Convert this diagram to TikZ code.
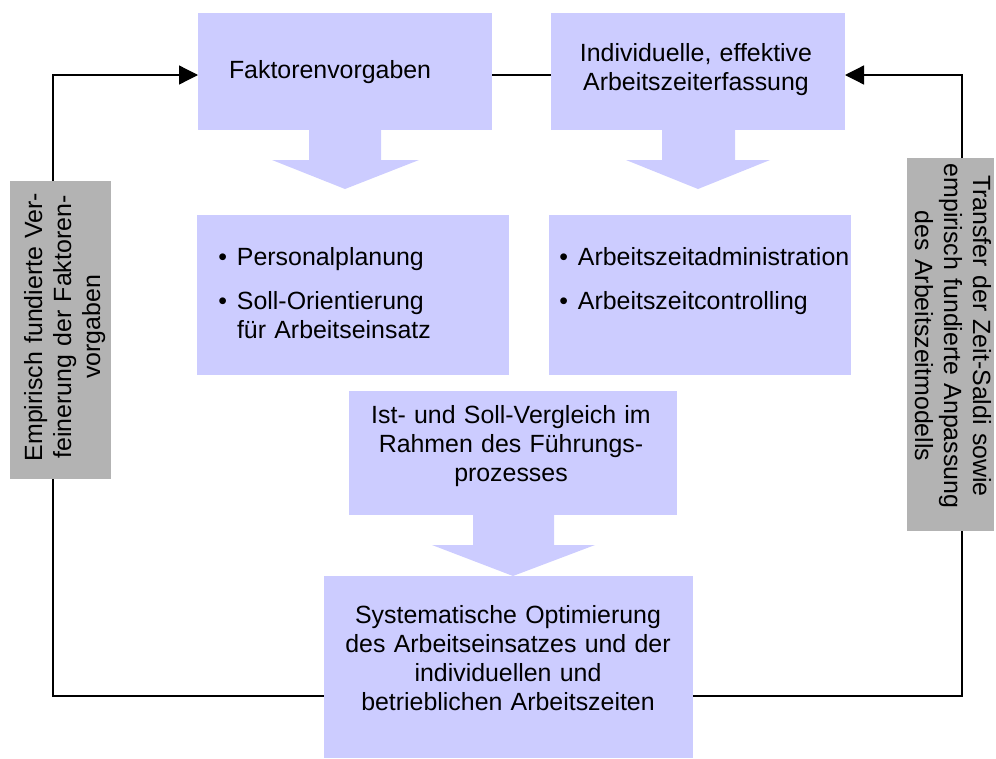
\documentclass[tikz,border=0pt]{standalone}
\usepackage{fontspec}
\setmainfont{Liberation Sans}
\usetikzlibrary{arrows.meta}
\definecolor{boxfill}{HTML}{CCCCFF}
\definecolor{greyfill}{HTML}{B3B3B3}
\begin{document}
\begin{tikzpicture}[x=1pt,y=-1pt,
  box/.style={fill=boxfill, draw=none, inner sep=0pt, outer sep=0pt},
  greybox/.style={fill=greyfill, draw=none, inner sep=0pt, outer sep=0pt},
  txt/.style={inner sep=0pt, outer sep=0pt, font=\fontsize{24.9}{29}\selectfont},
  item/.style={txt, anchor=base west, text width=290pt, align=left},
  conn/.style={line width=1.3pt, draw=black},
  tiphead/.style={-{Triangle[length=19pt,width=19pt]}},
  blockarrow/.style={fill=boxfill, draw=none},
]
\useasboundingbox (0,0) rectangle (996,758);

% boxes
\node[box, minimum width=294pt, minimum height=117pt] (A) at (345,71.5) {};
\node[box, minimum width=294pt, minimum height=117pt] (B) at (698,71.5) {};
\node[box, minimum width=312pt, minimum height=160pt] (C) at (353,295) {};
\node[box, minimum width=302pt, minimum height=160pt] (D) at (700,295) {};
\node[box, minimum width=328pt, minimum height=124pt] (E) at (513,453) {};
\node[box, minimum width=369pt, minimum height=182pt] (F) at (508.5,667) {};
\node[greybox, minimum width=101pt, minimum height=298pt] (L) at (60.5,330) {};
\node[greybox, minimum width=87pt, minimum height=373pt] (R) at (950.5,344.5) {};

% block arrows
\fill[blockarrow] (309,130) -- (381,130) -- (381,160) -- (419,160) -- (345,189) -- (272,160) -- (309,160) -- cycle;
\fill[blockarrow] (662,130) -- (735,130) -- (735,160) -- (770,160) -- (698,189) -- (626,160) -- (662,160) -- cycle;
\fill[blockarrow] (473,515) -- (554,515) -- (554,545) -- (595,545) -- (513,576) -- (432,545) -- (473,545) -- cycle;

% texts
\node[txt, anchor=base west] (At) at (229,78) {Faktorenvorgaben};
\node[txt, anchor=base, text width=340pt, align=center] (Bt) at (696,61) {Individuelle, effektive\\Arbeitszeiterfassung};
\node[item] (Ct1) at (237,265) {\llap{\textbullet\hspace{10pt}}Personalplanung};
\node[item] (Ct2) at (237,309) {\llap{\textbullet\hspace{10pt}}Soll-Orientierung\\für Arbeitseinsatz};
\node[item] (Dt1) at (578,265) {\llap{\textbullet\hspace{10pt}}Arbeitszeitadministration};
\node[item] (Dt2) at (578,309) {\llap{\textbullet\hspace{10pt}}Arbeitszeitcontrolling};
\node[txt, anchor=base, text width=380pt, align=center] (Et) at (511,423) {Ist- und Soll-Vergleich im\\Rahmen des Führungs-\\prozesses};
\node[txt, anchor=base, text width=400pt, align=center] (Ft) at (508,623) {Systematische Optimierung\\des Arbeitseinsatzes und der\\individuellen und\\betrieblichen Arbeitszeiten};
\node[txt, anchor=base, text width=360pt, align=center, rotate=90] (Lt) at (42,327) {Empirisch fundierte Ver-\\feinerung der Faktoren-\\vorgaben};
\node[txt, anchor=base, text width=420pt, align=center, rotate=-90] (Rt) at (973,336) {Transfer der Zeit-Saldi sowie\\empirisch fundierte Anpassung\\des Arbeitszeitmodells};

% connectors
\draw[conn, tiphead] (53,0 |- L.north) |- (A.west |- 0,75);
\draw[conn] (A.east |- 0,75) -- (B.west |- 0,75);
\draw[conn, tiphead] (962,0 |- R.north) |- (B.east |- 0,75);
\draw[conn] (53,0 |- L.south) |- (F.west |- 0,696);
\draw[conn] (F.east |- 0,696) -| (962,0 |- R.south);
\end{tikzpicture}
\end{document}
